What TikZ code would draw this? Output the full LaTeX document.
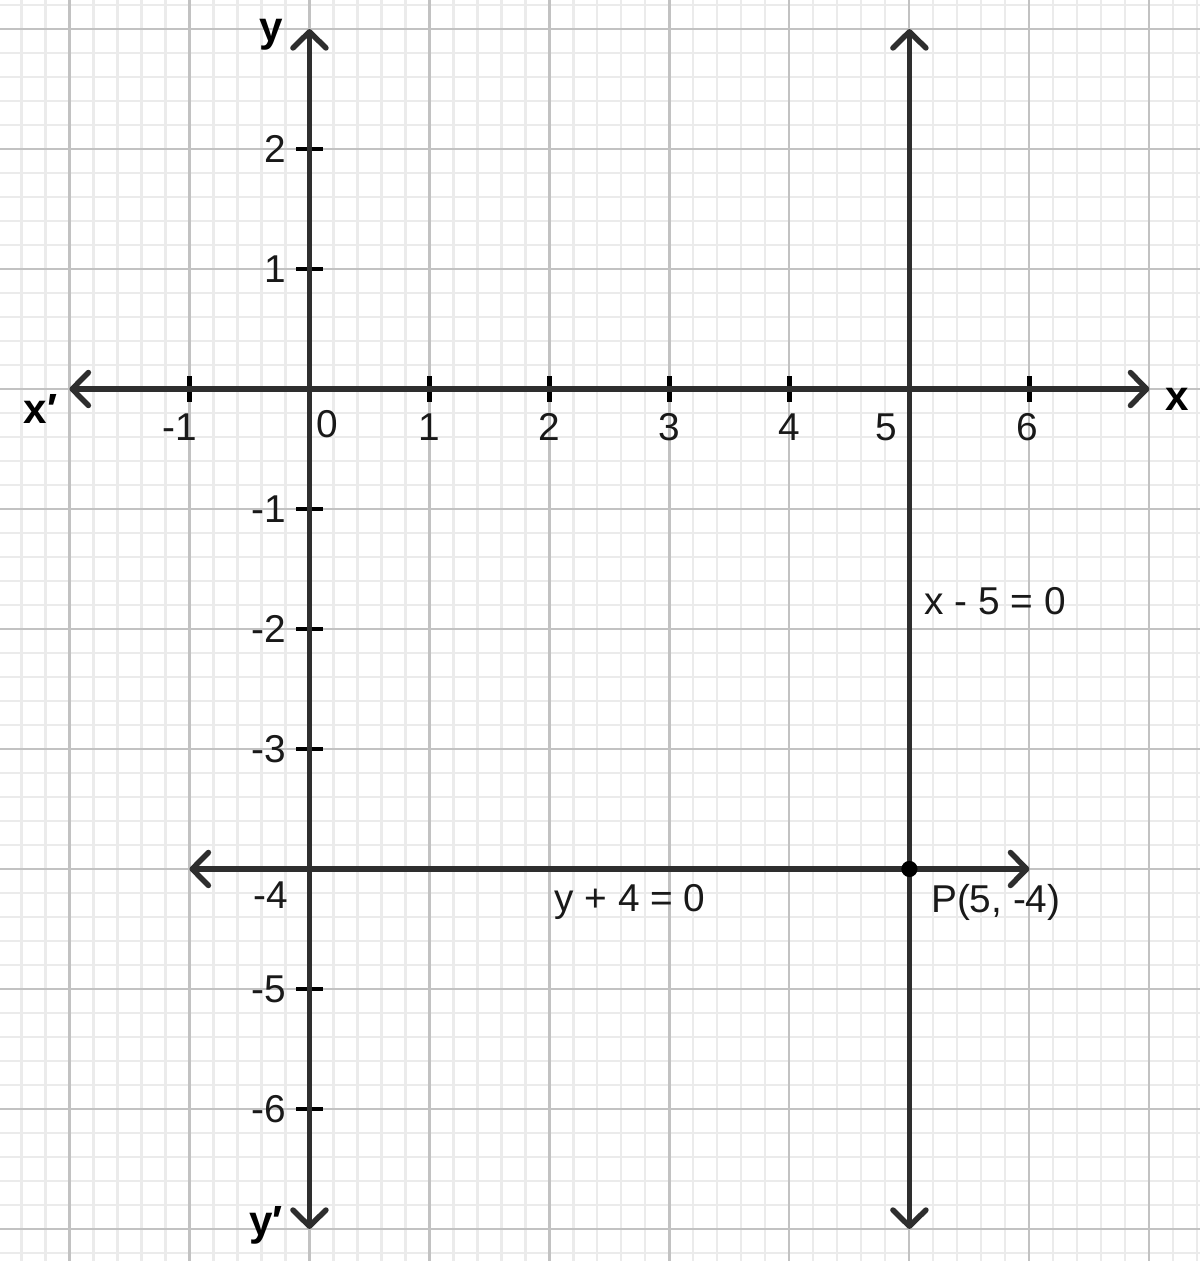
\documentclass[tikz,border=0pt]{standalone}
\usepackage{fontspec}
\setmainfont{Liberation Sans}
\usetikzlibrary{arrows.meta}
\begin{document}
\begin{tikzpicture}[x=1cm,y=1cm,
  minorgrid/.style={draw=black!8, line width=0.5pt},
  majorgrid/.style={draw=black!24, line width=0.5pt},
  barb/.tip={Straight Barb[length=1.35mm,width=2.75mm,line cap=round,line join=round]},
  axisline/.style={draw=black!82, line width=1.3pt, barb-barb},
  tickmark/.style={draw=black, line width=1.15pt},
  lbl/.style={font=\fontsize{9.2}{11}\selectfont, inner sep=0pt, text=black!90},
  axlbl/.style={font=\bfseries\fontsize{10}{12}\selectfont, inner sep=0pt}]
\useasboundingbox (-2.579,-7.267) rectangle (7.421,3.242);
\fill[white] (-2.579,-7.267) rectangle (7.421,3.242);
\draw[minorgrid, step=0.2] (-2.579,-7.267) grid (7.421,3.242);
\draw[majorgrid, step=1] (-2.579,-7.267) grid (7.421,3.242);
% coordinates
\coordinate (xl) at (-2,0);
\coordinate (xr) at (7,0);
\coordinate (yt) at (0,3);
\coordinate (yb) at (0,-7);
\coordinate (vt) at (5,3);
\coordinate (vb) at (5,-7);
\coordinate (hl) at (-1,-4);
\coordinate (hr) at (6,-4);
% ticks
\foreach \i in {-1,1,2,3,4,6} \draw[tickmark] (\i,-0.11) -- (\i,0.11);
\foreach \j in {2,1,-1,-2,-3,-5,-6} \draw[tickmark] (-0.11,\j) -- (0.11,\j);
% lines
\draw[axisline] (xl) -- (xr);
\draw[axisline] (yb) -- (yt);
\draw[axisline] (vb) -- (vt);
\draw[axisline] (hl) -- (hr);
\node[circle, fill=black, inner sep=0pt, minimum size=0.135cm] (P) at (5,-4) {};
% axis labels
\node[axlbl] (ly) at (-0.32,2.95) {y};
\node[axlbl] (lyp) at (-0.36,-6.97) {y′};
\node[axlbl] (lxp) at (-2.24,-0.17) {x′};
\node[axlbl] (lx) at (7.23,-0.09) {x};
% x tick labels
\node[lbl] (tx-1) at (-1.08,-0.317) {-1};
\node[lbl] (tx0) at (0.146,-0.29) {0};
\foreach \i in {1,2,3,4} \node[lbl] (tx\i) at (\i,-0.317) {\i};
\node[lbl] (tx5) at (4.81,-0.317) {5};
\node[lbl] (tx6) at (5.98,-0.317) {6};
% y tick labels
\foreach \j in {2,1,-1,-2,-3,-5,-6} \node[lbl, anchor=east] (ty\j) at (-0.19,\j) {\j};
\node[lbl, anchor=east] (ty-4) at (-0.17,-4.22) {-4};
% equation labels
\node[lbl] (e1) at (5.716,-1.767) {x - 5 = 0};
\node[lbl] (e2) at (2.671,-4.275) {y + 4 = 0};
\node[lbl] (pl) at (5.72,-4.275) {P(5, -4)};
\end{tikzpicture}
\end{document}
